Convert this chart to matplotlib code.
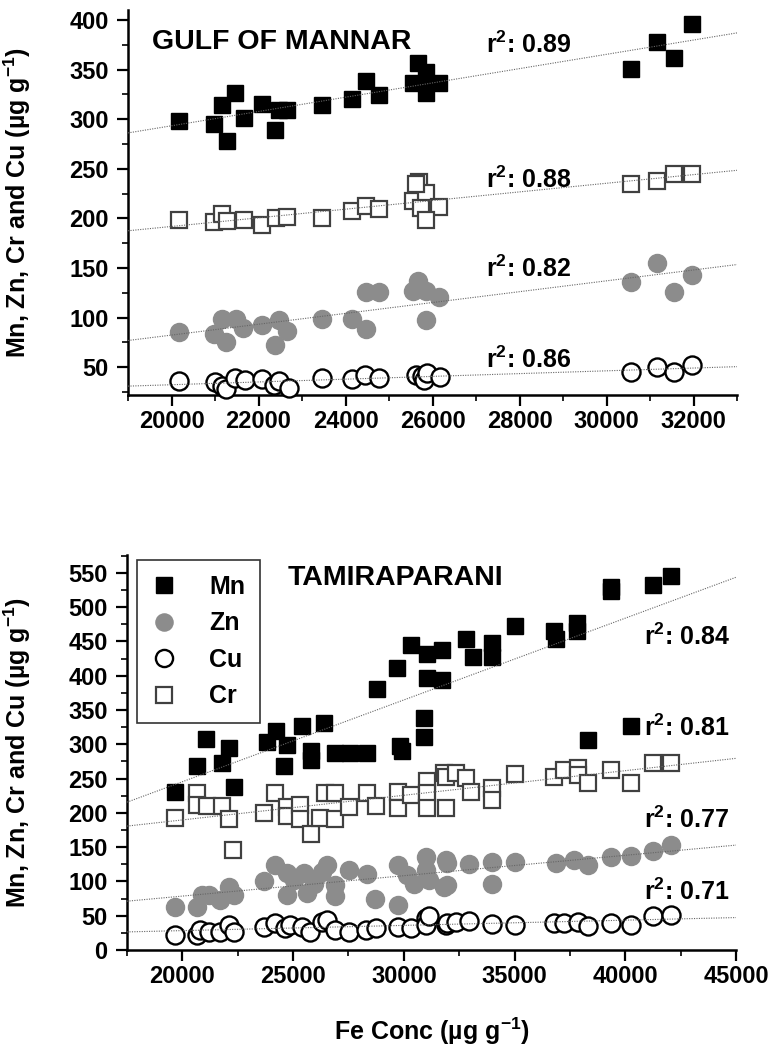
import numpy as np
import matplotlib
matplotlib.use('Agg')
import matplotlib.pyplot as plt
from matplotlib.ticker import MultipleLocator

plt.rcParams['font.family'] = ['Liberation Sans', 'DejaVu Sans']
plt.rcParams['font.weight'] = 'bold'
plt.rcParams['mathtext.fontset'] = 'custom'
plt.rcParams['mathtext.rm'] = 'Liberation Sans:bold'
plt.rcParams['mathtext.it'] = 'Liberation Sans:bold'
plt.rcParams['mathtext.bf'] = 'Liberation Sans:bold'

# ---- Gulf of Mannar (Fe vs metal, ug/g) ----
gm_mn_fe = [20170, 20970, 21160, 21470, 21270, 21660, 22070, 22370, 22470, 22650,
            23460, 24160, 24460, 24770, 25660, 25850, 25560, 25850, 26160, 25850,
            30560, 31150, 31550, 31970]
gm_mn = [298, 295, 314, 326, 278, 301, 315, 289, 309, 309,
         314, 320, 338, 324, 357, 347, 336, 326, 336, 336,
         351, 378, 362, 396]
gm_cr_fe = [20170, 20970, 21160, 21280, 21660, 22070, 22410, 22650, 23470, 24160,
            24460, 24770, 25550, 25700, 25850, 25740, 26160, 25850, 25620,
            30560, 31150, 31550, 31970]
gm_cr = [198, 196, 204, 197, 198, 193, 200, 201, 200, 207,
         212, 209, 218, 237, 226, 210, 211, 198, 235,
         235, 238, 245, 245]
gm_zn_fe = [20170, 20970, 21150, 21250, 21480, 21650, 22070, 22370, 22470, 22650,
            23470, 24160, 24460, 24460, 24770, 25660, 25560, 25850, 26160, 25850,
            30560, 31150, 31550, 31970]
gm_zn = [85, 83, 99, 75, 99, 90, 93, 72, 98, 86,
         99, 99, 89, 126, 126, 137, 127, 127, 121, 98,
         136, 155, 126, 143]
gm_cu_fe = [20170, 20990, 21170, 21260, 21470, 21690, 22080, 22350, 22480, 22690,
            23460, 24140, 24450, 24770, 25610, 25750, 25810, 25870, 26170,
            30560, 31160, 31550, 31960]
gm_cu = [36, 35, 31, 28, 39, 37, 38, 32, 36, 29,
         39, 38, 42, 39, 42, 41, 37, 44, 40,
         45, 50, 45, 52]
gm_r2 = ['0.89', '0.88', '0.82', '0.86']

# ---- Tamiraparani ----
tp_mn_fe = [19670, 20680, 21080, 21790, 22090, 22310, 23820, 24240, 24570, 24730,
            25400, 25810, 25810, 26380, 26910, 27590, 28350, 28800, 29700, 29820,
            29900, 30300, 30910, 30910, 31060, 31060, 31740, 31740, 32790, 33100,
            34000, 34000, 35010, 36790, 36870, 37820, 37820, 38330, 39360, 39360,
            40260, 41240, 42070]
tp_mn = [230, 268, 308, 273, 294, 238, 304, 319, 268, 299,
         326, 277, 290, 331, 287, 287, 287, 380, 411, 297,
         290, 445, 338, 311, 431, 397, 438, 394, 453, 428,
         448, 428, 473, 465, 453, 477, 465, 307, 530, 523,
         326, 533, 546]
tp_cr_fe = [19670, 20680, 20680, 21130, 21790, 22090, 22280, 23700, 24200, 24730,
            24730, 25330, 25330, 25810, 26230, 26460, 26910, 26910, 27520, 28320,
            28720, 29730, 29730, 30300, 31030, 31030, 31030, 31810, 31890, 31890,
            32340, 32790, 33020, 34000, 34000, 35010, 36790, 37240, 37850, 37850,
            38300, 39350, 40260, 41240, 42070]
tp_cr = [192, 229, 212, 210, 210, 191, 146, 200, 229, 209,
         196, 212, 191, 169, 192, 229, 229, 191, 209, 229,
         210, 231, 207, 226, 246, 229, 207, 258, 207, 253,
         258, 251, 231, 236, 219, 257, 253, 263, 265, 255,
         243, 263, 243, 273, 273]
tp_zn_fe = [19670, 20680, 20880, 21180, 21710, 22090, 22310, 23700, 24200, 24730,
            24730, 25030, 25480, 25630, 25930, 26310, 26510, 26910, 26910, 27520,
            28320, 28680, 29730, 29730, 30150, 30460, 30990, 30990, 31140, 31890,
            31810, 31970, 31970, 32950, 34000, 34000, 35010, 36870, 37700, 38300,
            39360, 40260, 41240, 42070]
tp_zn = [63, 63, 80, 80, 73, 92, 80, 100, 124, 112,
         80, 102, 112, 83, 97, 114, 124, 95, 79, 117,
         111, 75, 124, 66, 109, 97, 136, 117, 102, 131,
         92, 127, 95, 126, 129, 97, 129, 127, 131, 124,
         136, 137, 145, 153]
tp_cu_fe = [19670, 20680, 20800, 21180, 21710, 22090, 22310, 23700, 24200, 24650,
            24880, 25400, 25780, 26310, 26530, 26910, 27520, 28270, 28720, 29730,
            30300, 30990, 30990, 31140, 31890, 31970, 32340, 32950, 34000, 35010,
            36790, 37240, 37850, 38300, 39360, 40260, 41240, 42070]
tp_cu = [22, 22, 29, 27, 27, 36, 27, 34, 39, 32,
         36, 34, 27, 41, 44, 29, 27, 29, 32, 34,
         32, 46, 36, 49, 36, 39, 41, 43, 38, 36,
         39, 40, 41, 35, 40, 36, 49, 51]
tp_r2 = ['0.84', '0.81', '0.77', '0.71']

elements = ['Mn', 'Zn', 'Cu', 'Cr']
styles = {
    'Mn': dict(marker='s', ms=12, mfc='black', mec='black', mew=1),
    'Zn': dict(marker='o', ms=13, mfc='0.55', mec='0.55', mew=1),
    'Cu': dict(marker='o', ms=13, mfc='white', mec='black', mew=1.7),
    'Cr': dict(marker='s', ms=12, mfc='white', mec='0.25', mew=1.6),
}
ylab = r'Mn, Zn, Cr and Cu (µg g$^{-1}$)'


def panel(ax, data, r2, r2_x, r2_y, title, title_xy, xlim, ylim, xmaj, xmin):
    for el in ['Mn', 'Cr', 'Zn', 'Cu']:
        fe, val = data[el]
        ax.plot(fe, val, ls='none', label=el, zorder=3, clip_on=False, **styles[el])
    # least-squares trend line per element, across the full axis width
    for el, txt, ty in zip(['Mn', 'Cr', 'Zn', 'Cu'], r2, r2_y):
        fe, val = data[el]
        k, b = np.polyfit(fe, val, 1)
        xs = np.array(xlim, dtype=float)
        ax.plot(xs, k * xs + b, ls=(0, (1, 1.2)), color='0.4', lw=0.8, zorder=4)
        ax.text(r2_x, ty, 'r$^2$: ' + txt, fontsize=18, fontweight='bold',
                ha='left', va='center')
    ax.text(title_xy[0], title_xy[1], title, fontsize=20.5, fontweight='bold',
            ha='left', va='center')
    ax.set_xlim(xlim)
    ax.set_ylim(ylim)
    ax.xaxis.set_major_locator(MultipleLocator(xmaj))
    ax.xaxis.set_minor_locator(MultipleLocator(xmin))
    ax.yaxis.set_major_locator(MultipleLocator(50))
    ax.yaxis.set_minor_locator(MultipleLocator(25))
    ax.spines['top'].set_visible(False)
    ax.spines['right'].set_visible(False)
    for s in ['left', 'bottom']:
        ax.spines[s].set_linewidth(1.8)
    ax.tick_params(which='major', direction='out', length=8, width=1.6,
                   labelsize=17)
    ax.tick_params(which='minor', direction='out', length=4.5, width=1.2)
    ax.tick_params(axis='x', pad=3)
    ax.tick_params(axis='y', pad=6)
    for lab in ax.get_xticklabels() + ax.get_yticklabels():
        lab.set_fontweight('bold')
    ax.set_ylabel(ylab, fontsize=18, fontweight='bold')


fig = plt.figure(figsize=(7.68, 10.5), dpi=100)
ax1 = fig.add_axes([0.1667, 0.6238, 0.793, 0.3667])
ax2 = fig.add_axes([0.1654, 0.0952, 0.793, 0.3762])

gm = {'Mn': (gm_mn_fe, gm_mn), 'Zn': (gm_zn_fe, gm_zn),
      'Cu': (gm_cu_fe, gm_cu), 'Cr': (gm_cr_fe, gm_cr)}
tp = {'Mn': (tp_mn_fe, tp_mn), 'Zn': (tp_zn_fe, tp_zn),
      'Cu': (tp_cu_fe, tp_cu), 'Cr': (tp_cr_fe, tp_cr)}

panel(ax1, gm, gm_r2, 27240, [375, 239, 149, 57], 'GULF OF MANNAR',
      (19550, 378), (19000, 33000), (22, 410), 2000, 1000)
panel(ax2, tp, tp_r2, 40850, [457, 324, 190, 85], 'TAMIRAPARANI',
      (24740, 542), (17500, 45000), (0, 576), 5000, 2500)

ax1.yaxis.set_label_coords(-0.156, 0.5)
ax2.yaxis.set_label_coords(-0.154, 0.5)
ax2.set_xlabel(r'Fe Conc (µg g$^{-1}$)', fontsize=18, fontweight='bold')
ax2.xaxis.set_label_coords(0.5, -0.165)

handles = [ax2.lines[[0, 2, 3, 1][i]] for i in range(4)]
leg = ax2.legend(handles, elements, loc='upper left', bbox_to_anchor=(0.016, 0.988),
                 borderaxespad=0, fontsize=18, frameon=True, fancybox=False,
                 edgecolor='black', handlelength=1.0, handletextpad=1.3,
                 borderpad=0.6, labelspacing=0.5, markerscale=0.95)
leg.get_frame().set_linewidth(1.2)
for t in leg.get_texts():
    t.set_fontweight('bold')

fig.savefig('out.png', dpi=100)
